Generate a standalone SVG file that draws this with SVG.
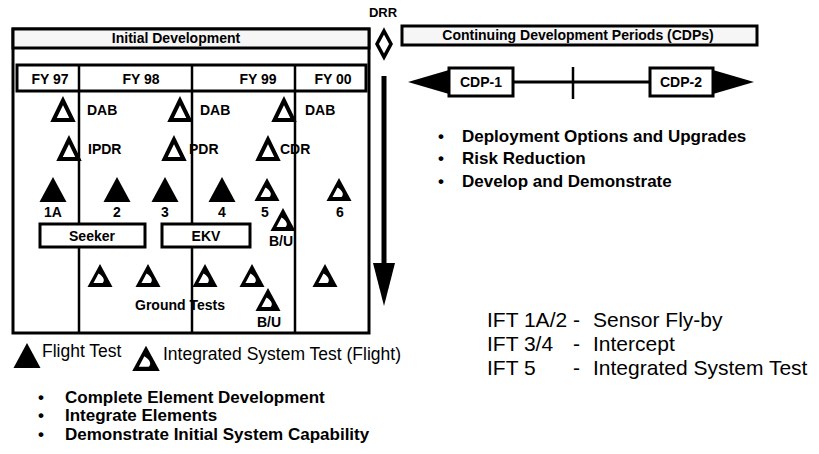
<svg xmlns="http://www.w3.org/2000/svg" width="819" height="454" viewBox="0 0 819 454">
<style>
  text { font-family: "Liberation Sans", Arial, Helvetica, sans-serif; fill: #000; }
  .lbl { font-size: 14px; font-weight: bold; }
  .mid { text-anchor: middle; }
  .box { fill: #fff; stroke: #000; stroke-width: 3; }
  .hdr { fill: #f6f6f6; stroke: #000; stroke-width: 3; }
  .frame { fill: none; stroke: #000; stroke-width: 3; }
  .ln { stroke: #000; stroke-width: 2.5; fill: none; }
  .bul { font-size: 17px; font-weight: bold; }
  .ift { font-size: 21px; }
  .leg { font-size: 17.5px; }
</style>
<defs>
  <g id="tOpen"><polygon points="0,-9.5 -9.5,10 9.5,10" fill="#fff" stroke="#000" stroke-width="4"/></g>
  <g id="tFill"><polygon points="0,-13 -13.5,12 13.5,12" fill="#000"/></g>
  <g id="tIst"><polygon points="0,-12 -12.5,11 12.5,11" fill="#000"/><path d="M -6.5,7 L -1.5,-2.5 C 3,0 5.5,4.5 2.5,7 Z" fill="#fff"/></g>
</defs>

<!-- frame / structure -->
<g id="frame">
  <rect x="13" y="29" width="356" height="304" class="frame"/>
  <line x1="79" y1="91" x2="79" y2="333" class="ln"/>
  <line x1="192" y1="91" x2="192" y2="333" class="ln"/>
  <line x1="295" y1="91" x2="295" y2="333" class="ln"/>
</g>

<g id="initial-development">
  <rect x="13" y="29" width="356" height="19" class="hdr"/>
  <text x="176" y="43" class="lbl mid">Initial Development</text>
</g>

<g id="fy-row">
  <rect x="17" y="65" width="349" height="26" class="box"/>
  <line x1="79" y1="65" x2="79" y2="91" class="ln"/>
  <line x1="192" y1="65" x2="192" y2="91" class="ln"/>
  <line x1="295" y1="65" x2="295" y2="91" class="ln"/>
  <text x="50" y="84" class="lbl mid">FY 97</text>
  <text x="141" y="84" class="lbl mid">FY 98</text>
  <text x="258" y="84" class="lbl mid">FY 99</text>
  <text x="333" y="84" class="lbl mid">FY 00</text>
</g>

<!-- connectors -->
<g id="connectors">
  <line x1="384" y1="76" x2="384" y2="266" stroke="#000" stroke-width="5"/>
  <polygon points="373,263 395,263 384,306" fill="#000"/>
  <line x1="449" y1="82" x2="713" y2="82" stroke="#000" stroke-width="3"/>
  <polygon points="408,82 449,70 449,94" fill="#000"/>
  <polygon points="754,82 713,70 713,94" fill="#000"/>
  <line x1="573" y1="67" x2="573" y2="99" stroke="#000" stroke-width="2.5"/>
</g>

<g id="drr">
  <text x="383" y="17" class="mid" font-size="13" font-weight="bold">DRR</text>
  <polygon points="384,31 391,44 384,57 377,44" fill="#fff" stroke="#000" stroke-width="3.5"/>
</g>

<g id="dab-1"><use href="#tOpen" x="63" y="110"/><text x="87" y="115" class="lbl">DAB</text></g>
<g id="dab-2"><use href="#tOpen" x="180" y="110"/><text x="200" y="115" class="lbl">DAB</text></g>
<g id="dab-3"><use href="#tOpen" x="284" y="110"/><text x="305" y="115" class="lbl">DAB</text></g>
<g id="ipdr"><use href="#tOpen" x="69" y="149"/><text x="88" y="154" class="lbl">IPDR</text></g>
<g id="pdr"><use href="#tOpen" x="174" y="149"/><text x="189" y="154" class="lbl">PDR</text></g>
<g id="cdr"><use href="#tOpen" x="268" y="149"/><text x="280" y="154" class="lbl">CDR</text></g>

<g id="ift-1a"><use href="#tFill" x="53" y="190"/><text x="53" y="217" class="lbl mid">1A</text></g>
<g id="ift-2"><use href="#tFill" x="117" y="190"/><text x="117" y="217" class="lbl mid">2</text></g>
<g id="ift-3"><use href="#tFill" x="165" y="190"/><text x="165" y="217" class="lbl mid">3</text></g>
<g id="ift-4"><use href="#tFill" x="222" y="190"/><text x="222" y="217" class="lbl mid">4</text></g>
<g id="ift-5"><use href="#tIst" x="267" y="190"/><text x="265" y="217" class="lbl mid">5</text></g>
<g id="ift-6"><use href="#tIst" x="339" y="190"/><text x="340" y="217" class="lbl mid">6</text></g>
<g id="ift-bu"><use href="#tIst" x="283" y="220"/><text x="281" y="246" class="lbl mid">B/U</text></g>

<g id="seeker"><rect x="40" y="224" width="105" height="23" class="box"/><text x="92" y="241" class="lbl mid">Seeker</text></g>
<g id="ekv"><rect x="162" y="224" width="88" height="23" class="box"/><text x="206" y="241" class="lbl mid">EKV</text></g>

<g id="ground-tests">
  <use href="#tIst" x="100" y="276"/>
  <use href="#tIst" x="148" y="276"/>
  <use href="#tIst" x="205" y="276"/>
  <use href="#tIst" x="252" y="276"/>
  <use href="#tIst" x="325" y="276"/>
  <text x="135" y="310" class="lbl">Ground Tests</text>
</g>
<g id="ground-bu"><use href="#tIst" x="268" y="300"/><text x="269" y="327" class="lbl mid">B/U</text></g>

<g id="legend">
  <use href="#tFill" x="27" y="356"/>
  <text x="42" y="357" class="leg">Flight Test</text>
  <g transform="translate(146,359) scale(1.1)"><use href="#tIst"/></g>
  <text x="163" y="360" class="leg">Integrated System Test (Flight)</text>
</g>

<g id="initial-goals">
  <text x="38" y="403" class="bul">•</text><text x="65" y="403" class="bul">Complete Element Development</text>
  <text x="38" y="421" class="bul">•</text><text x="65" y="421" class="bul">Integrate Elements</text>
  <text x="38" y="440" class="bul">•</text><text x="65" y="440" class="bul">Demonstrate Initial System Capability</text>
</g>

<g id="cdp-header">
  <rect x="402" y="26" width="355" height="19" class="hdr"/>
  <text x="578" y="40" class="lbl mid">Continuing Development Periods (CDPs)</text>
</g>
<g id="cdp-1"><rect x="449" y="68" width="64" height="28" class="box"/><text x="481" y="87" class="lbl mid">CDP-1</text></g>
<g id="cdp-2"><rect x="650" y="68" width="63" height="28" class="box"/><text x="681" y="87" class="lbl mid">CDP-2</text></g>

<g id="cdp-goals">
  <text x="438" y="142" class="bul">•</text><text x="462" y="142" class="bul">Deployment Options and Upgrades</text>
  <text x="438" y="164" class="bul">•</text><text x="462" y="164" class="bul">Risk Reduction</text>
  <text x="438" y="187" class="bul">•</text><text x="462" y="187" class="bul">Develop and Demonstrate</text>
</g>

<g id="ift-key">
  <text x="487" y="327" class="ift">IFT 1A/2</text><text x="573" y="327" class="ift">-</text><text x="593" y="327" class="ift">Sensor Fly-by</text>
  <text x="487" y="351" class="ift">IFT 3/4</text><text x="573" y="351" class="ift">-</text><text x="593" y="351" class="ift">Intercept</text>
  <text x="487" y="375" class="ift">IFT 5</text><text x="573" y="375" class="ift">-</text><text x="593" y="375" class="ift">Integrated System Test</text>
</g>
</svg>
